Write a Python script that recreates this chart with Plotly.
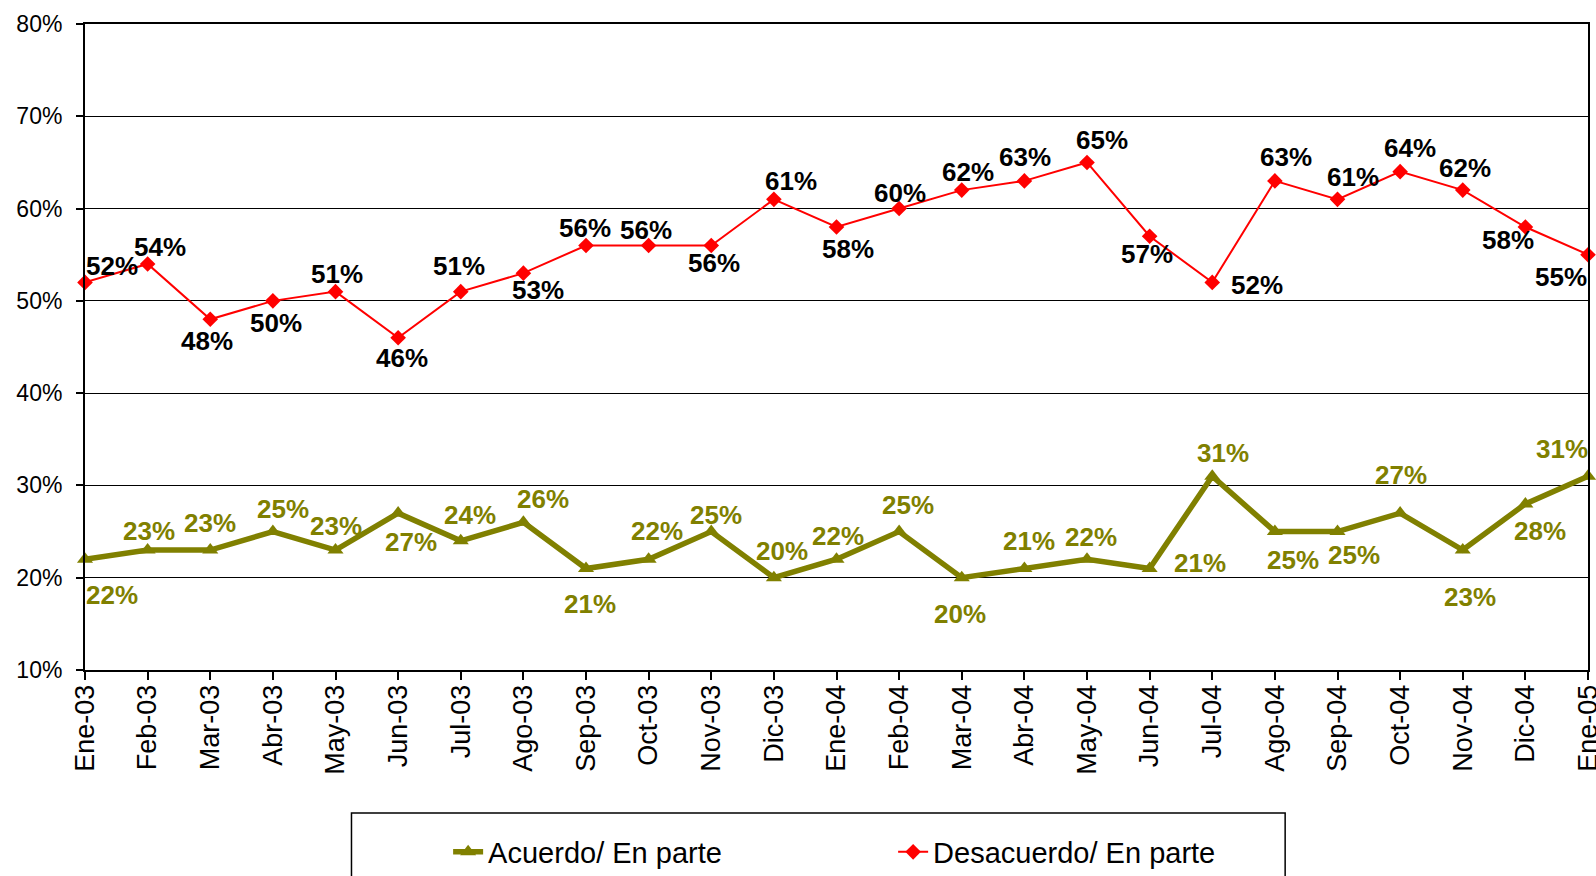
import plotly.graph_objects as go

months = ["Ene-03", "Feb-03", "Mar-03", "Abr-03", "May-03", "Jun-03", "Jul-03", "Ago-03",
          "Sep-03", "Oct-03", "Nov-03", "Dic-03", "Ene-04", "Feb-04", "Mar-04", "Abr-04",
          "May-04", "Jun-04", "Jul-04", "Ago-04", "Sep-04", "Oct-04", "Nov-04", "Dic-04", "Ene-05"]
acuerdo = [22, 23, 23, 25, 23, 27, 24, 26, 21, 22, 25, 20, 22, 25, 20, 21, 22, 21, 31, 25, 25, 27, 23, 28, 31]
desacuerdo = [52, 54, 48, 50, 51, 46, 51, 53, 56, 56, 56, 61, 58, 60, 62, 63, 65, 57, 52, 63, 61, 64, 62, 58, 55]
y_ticks = [10, 20, 30, 40, 50, 60, 70, 80]

# label offsets in pixels (dx right, dy down) -- styling only
acuerdo_off = [(27, 36), (1, -19), (0, -27), (10, -23), (0, -24), (13, 29), (9, -26), (20, -23),
               (4, 36), (8, -28), (5, -17), (8, -27), (1, -23), (9, -27), (-2, 36), (5, -27),
               (4, -22), (50, -5), (11, -23), (18, 28), (16, 23), (1, -38), (7, 47), (15, 27), (-26, -27)]
desac_off = [(27, -16), (12, -17), (-3, 22), (3, 22), (1, -18), (4, 20), (-2, -26), (15, 17),
             (-1, -17), (-3, -15), (3, 18), (17, -18), (11, 22), (1, -16), (6, -18), (1, -24),
             (15, -22), (-3, 18), (45, 3), (11, -24), (15, -22), (10, -24), (2, -22), (-17, 13), (-27, 22)]

OLIVE = "#808000"
RED = "#FF0000"
FONT = "Liberation Sans, Arial, sans-serif"

fig = go.Figure()
fig.add_trace(go.Scatter(
    x=months, y=acuerdo, name="Acuerdo/ En parte", mode="lines+markers",
    line=dict(color=OLIVE, width=5.5),
    marker=dict(symbol="triangle-up", size=14, color=OLIVE),
    cliponaxis=False, hoverinfo="skip"))
fig.add_trace(go.Scatter(
    x=months, y=desacuerdo, name="Desacuerdo/ En parte", mode="lines+markers",
    line=dict(color=RED, width=2),
    marker=dict(symbol="diamond", size=12, color=RED),
    cliponaxis=False, hoverinfo="skip"))

annotations = []
for m, v, (dx, dy) in zip(months, acuerdo, acuerdo_off):
    annotations.append(dict(x=m, y=v, xref="x", yref="y", text=f"<b>{v}%</b>", showarrow=False,
                            xshift=dx, yshift=-dy, font=dict(family=FONT, size=26, color=OLIVE)))
for m, v, (dx, dy) in zip(months, desacuerdo, desac_off):
    annotations.append(dict(x=m, y=v, xref="x", yref="y", text=f"<b>{v}%</b>", showarrow=False,
                            xshift=dx, yshift=-dy, font=dict(family=FONT, size=26, color="black")))

fig.update_layout(
    width=1596, height=876,
    margin=dict(l=85, r=8, t=24, b=206, autoexpand=False),
    plot_bgcolor="white", paper_bgcolor="white",
    font=dict(family=FONT, color="black"),
    showlegend=True,
    legend=dict(orientation="h", x=0.2416, y=-0.2817, xanchor="left", yanchor="middle",
                font=dict(family=FONT, size=29, color="black"),
                entrywidth=400, entrywidthmode="pixels",
                bgcolor="rgba(0,0,0,0)", borderwidth=0),
    annotations=annotations,
    shapes=[dict(type="rect", xref="paper", yref="paper", x0=0.1773, x1=0.7985, y0=-0.40, y1=-0.2214,
                 line=dict(color="black", width=1.5), fillcolor="rgba(0,0,0,0)", layer="above")],
)
fig.update_xaxes(
    type="category", range=[0, len(months) - 1], automargin=False,
    showline=True, linecolor="black", linewidth=2, mirror=True,
    ticks="outside", ticklen=8, tickcolor="black", tickwidth=2,
    tickangle=-90, tickfont=dict(family=FONT, size=27, color="black"),
    ticklabelstandoff=-6,
    showgrid=False, zeroline=False)
fig.update_yaxes(
    range=[10, 80], tickvals=y_ticks, ticktext=[f"{t}%" for t in y_ticks], automargin=False,
    showline=True, linecolor="black", linewidth=2, mirror=True,
    ticks="outside", ticklen=7, tickcolor="black", tickwidth=2,
    tickfont=dict(family=FONT, size=23, color="black"),
    ticklabelstandoff=9,
    showgrid=True, gridcolor="black", gridwidth=1, zeroline=False)

fig.write_html("out.html",
               config={"displayModeBar": False},
               post_script="document.body.style.margin='0';document.body.style.overflow='hidden';")
